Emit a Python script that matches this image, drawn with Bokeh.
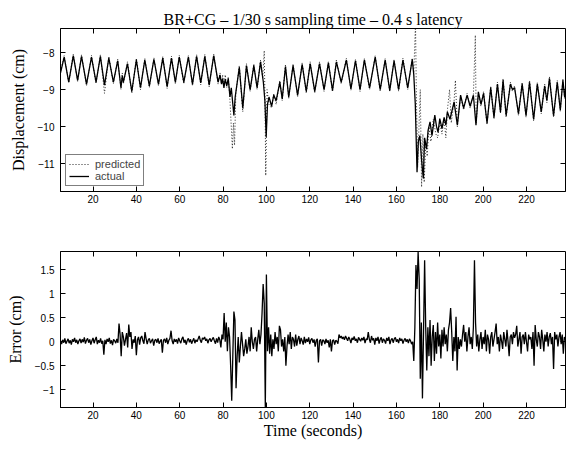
import numpy as np
from bokeh.plotting import figure
from bokeh.layouts import column
from bokeh.models import LinearAxis, FixedTicker, Range1d, Legend, LegendItem
from bokeh.embed import file_html
from bokeh.resources import INLINE

title_text = "BR+CG \u2013 1/30 s sampling time \u2013 0.4 s latency"
x_ticks = [20, 40, 60, 80, 100, 120, 140, 160, 180, 200, 220]
disp_ticks = [-11, -10, -9, -8]
disp_labels = ["\u221211", "\u221210", "\u22129", "\u22128"]
err_ticks = [-1, -0.5, 0, 0.5, 1, 1.5]
err_labels = ["\u22121", "\u22120.5", "0", "0.5", "1", "1.5"]

# actual displacement (turning points)
actual_t = [5.0, 6.7, 8.8, 10.9, 12.9, 14.7, 17.0, 19.3, 21.4, 23.4, 25.3, 27.3, 29.4, 31.4, 32.9, 33.5, 34.0,
            35.9, 37.9, 40.0, 41.9, 43.9, 46.0, 48.1, 50.2, 52.2, 54.2, 56.2, 58.0, 59.8, 61.9, 64.0, 65.9,
            67.8, 69.7, 71.6, 73.6, 75.7, 77.7, 78.6, 79.3, 79.8, 80.4, 81.0, 81.7, 82.4, 83.2, 83.8, 85.0,
            85.6, 87.5, 89.1, 90.8, 92.5, 94.2, 95.7, 97.3, 98.6, 99.3, 99.9, 100.5, 101.2, 102.4, 103.4,
            104.5, 106.2, 107.3, 108.8, 110.3, 112.3, 114.4, 116.5, 118.4, 120.2, 122.3, 124.5, 126.6, 128.6,
            130.5, 132.3, 134.5, 136.9, 139.0, 141.1, 143.2, 145.2, 147.6, 150.2, 152.5, 154.8, 156.9, 158.9,
            161.0, 163.0, 165.2, 167.3, 168.0, 168.7, 169.5, 170.1, 170.8, 171.6, 172.4, 173.0, 173.9, 174.6,
            175.5, 176.4, 177.7, 178.5, 179.2, 180.0, 181.0, 182.0, 182.8, 183.5, 184.7, 186.6, 188.1, 189.6,
            191.0, 192.6, 194.0, 195.5, 196.7, 197.8, 199.0, 200.2, 201.8, 203.5, 205.0, 206.6, 208.0, 209.2,
            210.6, 212.6, 213.5, 214.5, 216.3, 218.0, 219.8, 221.4, 223.3, 225.0, 226.8, 228.4, 229.4, 230.6,
            232.5, 234.2, 235.6, 236.8, 237.6, 238.4]
actual_v = [-8.55, -8.12, -8.8, -8.08, -8.75, -8.1, -8.85, -8.12, -8.8, -8.1, -8.88, -8.15, -8.8, -8.22, -8.95, -8.62, -8.8,
            -8.3, -9.05, -8.2, -8.95, -8.2, -8.9, -8.18, -8.85, -8.15, -8.92, -8.15, -8.8, -8.12, -8.8, -8.12, -8.85,
            -8.1, -8.82, -8.1, -8.88, -8.08, -8.8, -8.6, -8.85, -8.7, -8.95, -8.72, -8.9, -8.7, -9.2, -8.95, -9.7,
            -9.2, -8.4, -9.5, -8.35, -9.0, -8.35, -8.95, -8.25, -8.8, -9.3, -10.28, -9.4, -9.2, -9.45, -9.15,
            -9.3, -8.8, -9.25, -8.38, -9.2, -8.35, -9.15, -8.32, -9.05, -8.3, -9.05, -8.3, -9.0, -8.28,
            -9.02, -8.25, -8.8, -8.2, -8.98, -8.22, -9.0, -8.2, -8.95, -8.12, -9.0, -8.2, -9.02, -8.22,
            -9.0, -8.2, -8.95, -8.18, -8.6, -9.4, -11.23, -10.4, -10.24, -10.9, -11.4, -10.3, -10.6, -10.1,
            -9.87, -10.24, -9.69, -10.0, -10.15, -9.78, -10.05, -9.75, -9.96, -9.6, -9.8, -9.33, -9.96, -9.15,
            -9.5, -9.15, -9.45, -9.15, -9.96, -9.06, -9.4, -9.1, -9.9, -8.95, -9.75, -8.85, -9.6, -8.75,
            -9.7, -8.85, -9.0, -8.95, -9.65, -8.85, -9.7, -8.8, -9.8, -8.85, -9.6, -8.9, -9.3, -8.7,
            -9.7, -8.8, -9.55, -8.75, -9.2, -8.8]

# predicted displacement
pred_t = [5.0, 6.7, 8.8, 10.9, 12.9, 14.7, 17.0, 19.3, 21.4, 23.4, 25.3, 27.3, 29.4, 31.4, 32.9, 33.5, 34.0,
          35.9, 37.9, 40.0, 41.9, 43.9, 46.0, 48.1, 50.2, 52.2, 54.2, 56.2, 58.0, 59.8, 61.9, 64.0, 65.9,
          67.8, 69.7, 71.6, 73.6, 75.7, 77.7, 78.6, 79.3, 79.8, 80.4, 81.0, 81.7, 82.4, 83.2, 84.3, 84.8,
          85.3, 85.9, 87.5, 89.1, 90.8, 92.5, 94.2, 95.7, 97.3, 98.3, 99.0, 99.4, 99.7, 100.3, 101.2, 102.4,
          103.4, 104.5, 106.2, 107.3, 108.8, 110.3, 112.3, 114.4, 116.5, 118.4, 120.2, 122.3, 124.5, 126.6,
          128.6, 130.5, 132.3, 134.5, 136.9, 139.0, 141.1, 143.2, 145.2, 147.6, 150.2, 152.5, 154.8, 156.9,
          158.9, 161.0, 163.0, 165.2, 167.3, 168.0, 168.8, 169.2, 169.8, 170.4, 171.0, 171.6, 172.2, 172.8,
          173.5, 174.2, 175.0, 175.9, 177.0, 178.2, 179.0, 180.0, 181.0, 182.0, 182.8, 183.6, 184.5, 185.3,
          186.6, 187.2, 188.1, 189.6, 191.0, 192.6, 194.0, 195.5, 196.4, 196.8, 197.8, 199.0, 200.2, 201.8,
          203.5, 205.0, 206.6, 208.0, 209.2, 210.6, 212.6, 213.5, 214.5, 216.3, 218.0, 219.8, 221.4, 223.3,
          225.0, 226.8, 228.4, 229.4, 230.6, 232.5, 234.2, 235.6, 236.8, 237.6, 238.4]
pred_v = [-8.5, -8.08, -8.82, -8.05, -8.78, -8.06, -8.9, -8.08, -8.84, -8.06, -9.1, -8.1, -8.84, -8.18, -9.0, -8.55, -8.85,
          -8.25, -9.1, -8.15, -9.0, -8.15, -8.95, -8.14, -8.9, -8.1, -8.97, -8.1, -8.85, -8.08, -8.85, -8.08, -8.9,
          -8.06, -8.87, -8.05, -8.92, -8.04, -8.85, -8.55, -8.85, -8.6, -8.95, -8.6, -8.95, -8.65, -9.3, -10.6, -9.9,
          -10.5, -9.1, -8.35, -9.6, -8.3, -9.05, -8.3, -9.0, -8.2, -8.7, -7.95, -9.5, -11.32, -9.0, -9.4, -9.5,
          -9.1, -9.4, -8.75, -9.3, -8.33, -9.25, -8.3, -9.2, -8.28, -9.1, -8.25, -9.1, -8.25, -9.05,
          -8.24, -9.06, -8.2, -8.85, -8.16, -9.02, -8.18, -9.05, -8.16, -9.0, -8.08, -9.04, -8.16, -9.06,
          -8.18, -9.04, -8.15, -9.0, -8.15, -8.55, -7.2, -9.2, -11.1, -10.0, -9.0, -11.63, -10.2, -11.5,
          -10.5, -10.8, -10.0, -10.4, -9.8, -10.2, -10.3, -9.9, -10.2, -9.8, -10.3, -9.5, -9.0, -9.9,
          -9.3, -8.75, -10.0, -9.2, -9.55, -9.1, -9.5, -9.15, -7.53, -9.9, -9.1, -9.45, -9.05, -9.95,
          -8.9, -9.8, -8.8, -9.65, -8.7, -9.75, -8.8, -9.05, -8.9, -9.7, -8.8, -9.75, -8.75, -9.85,
          -8.8, -9.65, -8.85, -9.35, -8.65, -9.75, -8.75, -9.6, -8.7, -9.25, -8.75]

# error (predicted - actual), one value every 0.5 s starting at 5 s
err_start = 5.0
err_step = 0.5
err_v = [
    0.02, -0.05, 0.04, -0.02, 0.07, -0.04, 0.01, 0.06, -0.03, 0.03, -0.06, 0.05, 0.0, 0.08, -0.02, 0.04, -0.05, 0.02, 0.06, -0.03,
    0.05, -0.01, 0.09, -0.04, 0.03, 0.07, -0.02, 0.05, -0.06, 0.02, 0.08, -0.03, 0.04, 0.1, -0.05, 0.03, -0.02, 0.07, -0.04, 0.02,
    -0.27, 0.04, -0.05, 0.06, 0.0, 0.08, -0.04, 0.03, -0.07, 0.05, 0.02, -0.03, 0.06, -0.02, 0.38, 0.15, -0.3, 0.2, 0.1, -0.08,
    0.05, 0.18, -0.12, 0.36, 0.1, 0.2, -0.15, 0.05, -0.02, 0.12, -0.28, 0.04, 0.1, -0.06, 0.08, 0.12, 0.02, -0.04, 0.2, 0.06,
    -0.05, 0.04, 0.07, -0.03, 0.02, 0.06, -0.08, 0.03, 0.05, -0.02, 0.07, -0.04, 0.01, 0.05, -0.23, 0.03, 0.06, -0.02, 0.08, -0.05,
    0.03, 0.07, 0.23, 0.02, -0.05, 0.06, 0.0, 0.05, -0.04, 0.08, 0.02, -0.03, 0.06, 0.1, -0.02, 0.04, -0.06, 0.03, 0.07, -0.01,
    0.05, -0.04, 0.02, 0.07, -0.03, 0.04, 0.0, 0.06, 0.12, 0.03, -0.02, 0.08, 0.05, 0.1, 0.02, 0.06, -0.03, 0.04, 0.07, 0.0,
    0.05, 0.09, 0.02, -0.04, 0.07, -0.02, 0.1, 0.04, -0.12, 0.15, 0.05, 0.6, 0.0, 0.4, -0.2, 0.3, 0.1, -0.5, -1.23, -0.3,
    0.63, 0.45, -0.97, -0.3, 0.1, -0.43, -0.1, 0.2, -0.05, -0.3, -0.15, 0.05, -0.25, -0.1, 0.1, -0.2, 0.3, 0.0, -0.15, 0.05,
    0.1, -0.2, 0.05, 0.25, -0.05, 0.15, 0.6, 1.2, 0.8, -1.37, 1.4, -0.2, 0.3, -0.25, 0.15, -0.3, 0.05, -0.15, 0.2, -0.05,
    0.1, -0.2, 0.33, 0.25, -0.1, 0.05, -0.2, 0.1, -0.5, -0.1, 0.15, -0.05, 0.2, -0.15, 0.1, 0.05, -0.1, 0.15, -0.08, 0.05,
    0.12, -0.05, 0.08, 0.02, -0.06, 0.1, -0.03, 0.06, 0.0, 0.09, -0.05, 0.04, 0.07, -0.02, 0.05, -0.1, 0.03, 0.06, -0.43, 0.02,
    0.05, -0.08, 0.04, 0.02, -0.05, 0.06, -0.02, 0.03, -0.12, 0.05, -0.2, 0.02, 0.04, -0.06, 0.03, 0.01, -0.04, 0.15, 0.08, 0.12,
    0.06, 0.1, 0.04, 0.12, 0.07, 0.02, 0.1, 0.05, -0.03, 0.08, 0.04, 0.11, 0.02, 0.06, -0.02, 0.09, 0.05, 0.01, 0.08, 0.03,
    0.1, -0.03, 0.06, 0.04, 0.2, 0.05, -0.02, 0.12, 0.03, 0.07, -0.06, 0.08, 0.02, 0.1, -0.04, 0.05, 0.09, -0.02, 0.06, 0.03,
    -0.04, 0.08, 0.02, 0.1, -0.05, 0.04, 0.07, -0.02, 0.06, 0.09, 0.0, 0.05, -0.03, 0.08, 0.02, 0.06, -0.04, 0.03, 0.07, 0.0,
    0.05, -0.03, 0.06, 0.02, -0.05, 0.0, -0.4, 0.3, 1.6, 1.1, 1.87, 1.3, -0.77, 0.4, -1.18, 0.2, 1.7, 0.3, -0.6, 0.3,
    -0.3, 0.45, -0.5, 0.1, 0.35, -0.4, 0.2, -0.25, 0.4, -0.1, 0.15, -0.35, 0.25, -0.1, 0.3, -0.05, 0.15, -0.2, 0.25, 0.4,
    0.7, 0.2, -0.4, 0.1, -0.2, 0.52, -0.6, 0.1, -0.15, 0.05, -0.1, 0.15, 0.35, 0.0, 0.2, -0.2, 0.1, 0.3, -0.05, 0.1,
    -0.15, 0.3, 1.7, 0.4, -0.1, 0.15, -0.2, 0.05, 0.2, -0.15, 0.1, -0.05, 0.25, -0.2, 0.15, 0.05, -0.25, 0.1, 0.2, -0.1,
    0.05, 0.2, 0.38, -0.05, 0.1, -0.2, 0.15, 0.02, -0.15, 0.2, 0.05, -0.1, 0.25, 0.0, -0.3, 0.1, 0.15, -0.05, 0.2, 0.08,
    0.15, 0.33, -0.1, 0.05, 0.2, -0.25, 0.1, 0.15, -0.05, 0.2, 0.0, -0.2, 0.15, 0.05, 0.1, -0.15, 0.2, -0.5, 0.35, 0.05,
    -0.1, 0.2, 0.1, -0.15, 0.25, 0.05, -0.2, 0.15, 0.0, 0.2, -0.1, 0.1, 0.18, -0.05, 0.1, -0.57, 0.2, 0.05, 0.15, -0.1,
    0.1, 0.2, -0.05, 0.15, -0.25, 0.1, 0.05,
]
err_t = err_start + err_step * np.arange(len(err_v))

SERIF = "Liberation Serif"
SANS = "Liberation Sans"


def style(p, yticks, ylabels):
    p.outline_line_color = "black"
    p.outline_line_width = 1
    p.xgrid.visible = False
    p.ygrid.visible = False
    p.background_fill_color = "white"
    p.border_fill_color = "white"
    xb = p.below[0]
    yl = p.left[0]
    xb.ticker = FixedTicker(ticks=x_ticks)
    yl.ticker = FixedTicker(ticks=yticks)
    yl.major_label_overrides = {t: l for t, l in zip(yticks, ylabels)}
    for ax in (xb, yl):
        ax.major_tick_in = 5
        ax.major_tick_out = 0
        ax.minor_tick_in = 0
        ax.minor_tick_out = 0
        ax.axis_line_color = "black"
        ax.major_tick_line_color = "black"
        ax.major_label_text_font = SANS
        ax.major_label_text_font_size = "10px"
        ax.major_label_text_color = "black"
        ax.axis_label_text_font = SERIF
        ax.axis_label_text_font_size = "16px"
        ax.axis_label_text_font_style = "normal"
        ax.axis_label_text_color = "black"
    xb.major_label_standoff = 3
    xb.axis_label_standoff = 0
    yl.major_label_standoff = 6
    yl.axis_label_standoff = 8
    top = LinearAxis(ticker=FixedTicker(ticks=x_ticks),
                     major_label_overrides={t: "" for t in x_ticks},
                     major_tick_in=5, major_tick_out=0, minor_tick_in=0, minor_tick_out=0,
                     axis_line_color=None, major_label_text_font_size="1px", major_label_standoff=0)
    right = LinearAxis(ticker=FixedTicker(ticks=yticks),
                       major_label_overrides={t: "" for t in yticks},
                       major_tick_in=5, major_tick_out=0, minor_tick_in=0, minor_tick_out=0,
                       axis_line_color=None, major_label_text_font_size="1px", major_label_standoff=0)
    p.add_layout(top, "above")
    p.add_layout(right, "right")
    return xb, yl


p1 = figure(width=566, height=221, output_backend="svg", toolbar_location=None,
            x_range=Range1d(5, 238), y_range=Range1d(-11.75, -7.35),
            min_border_left=60, min_border_right=1, min_border_top=28, min_border_bottom=30,
            title=title_text)
p1.title.align = "center"
p1.title.text_font = SERIF
p1.title.text_font_size = "16px"
p1.title.text_font_style = "normal"
p1.title.text_color = "black"
p1.title.standoff = 2
xb1, yl1 = style(p1, disp_ticks, disp_labels)
yl1.axis_label = "Displacement (cm)"

r_pred = p1.line(pred_t, pred_v, line_color="black", line_width=1, line_dash="1 2", line_alpha=0.85)
r_act = p1.line(actual_t, actual_v, line_color="black", line_width=1.3)

legend = Legend(items=[LegendItem(label="predicted", renderers=[r_pred]),
                       LegendItem(label="actual", renderers=[r_act])],
                location="bottom_left", margin=5, padding=3, spacing=0,
                label_text_font=SANS, label_text_font_size="11px", label_height=10,
                glyph_height=10, glyph_width=20, label_standoff=6,
                border_line_color="black", border_line_width=1,
                background_fill_color="white", background_fill_alpha=1)
p1.add_layout(legend)

p2 = figure(width=566, height=220, output_backend="svg", toolbar_location=None,
            x_range=Range1d(5, 238), y_range=Range1d(-1.37, 1.88),
            min_border_left=60, min_border_right=1, min_border_top=30, min_border_bottom=33)
xb2, yl2 = style(p2, err_ticks, err_labels)
yl2.axis_label = "Error (cm)"
xb2.axis_label = "Time (seconds)"
p2.line(err_t, err_v, line_color="black", line_width=1.3)

layout = column(p1, p2, spacing=0)
open("out.html", "w").write(file_html(layout, INLINE))
